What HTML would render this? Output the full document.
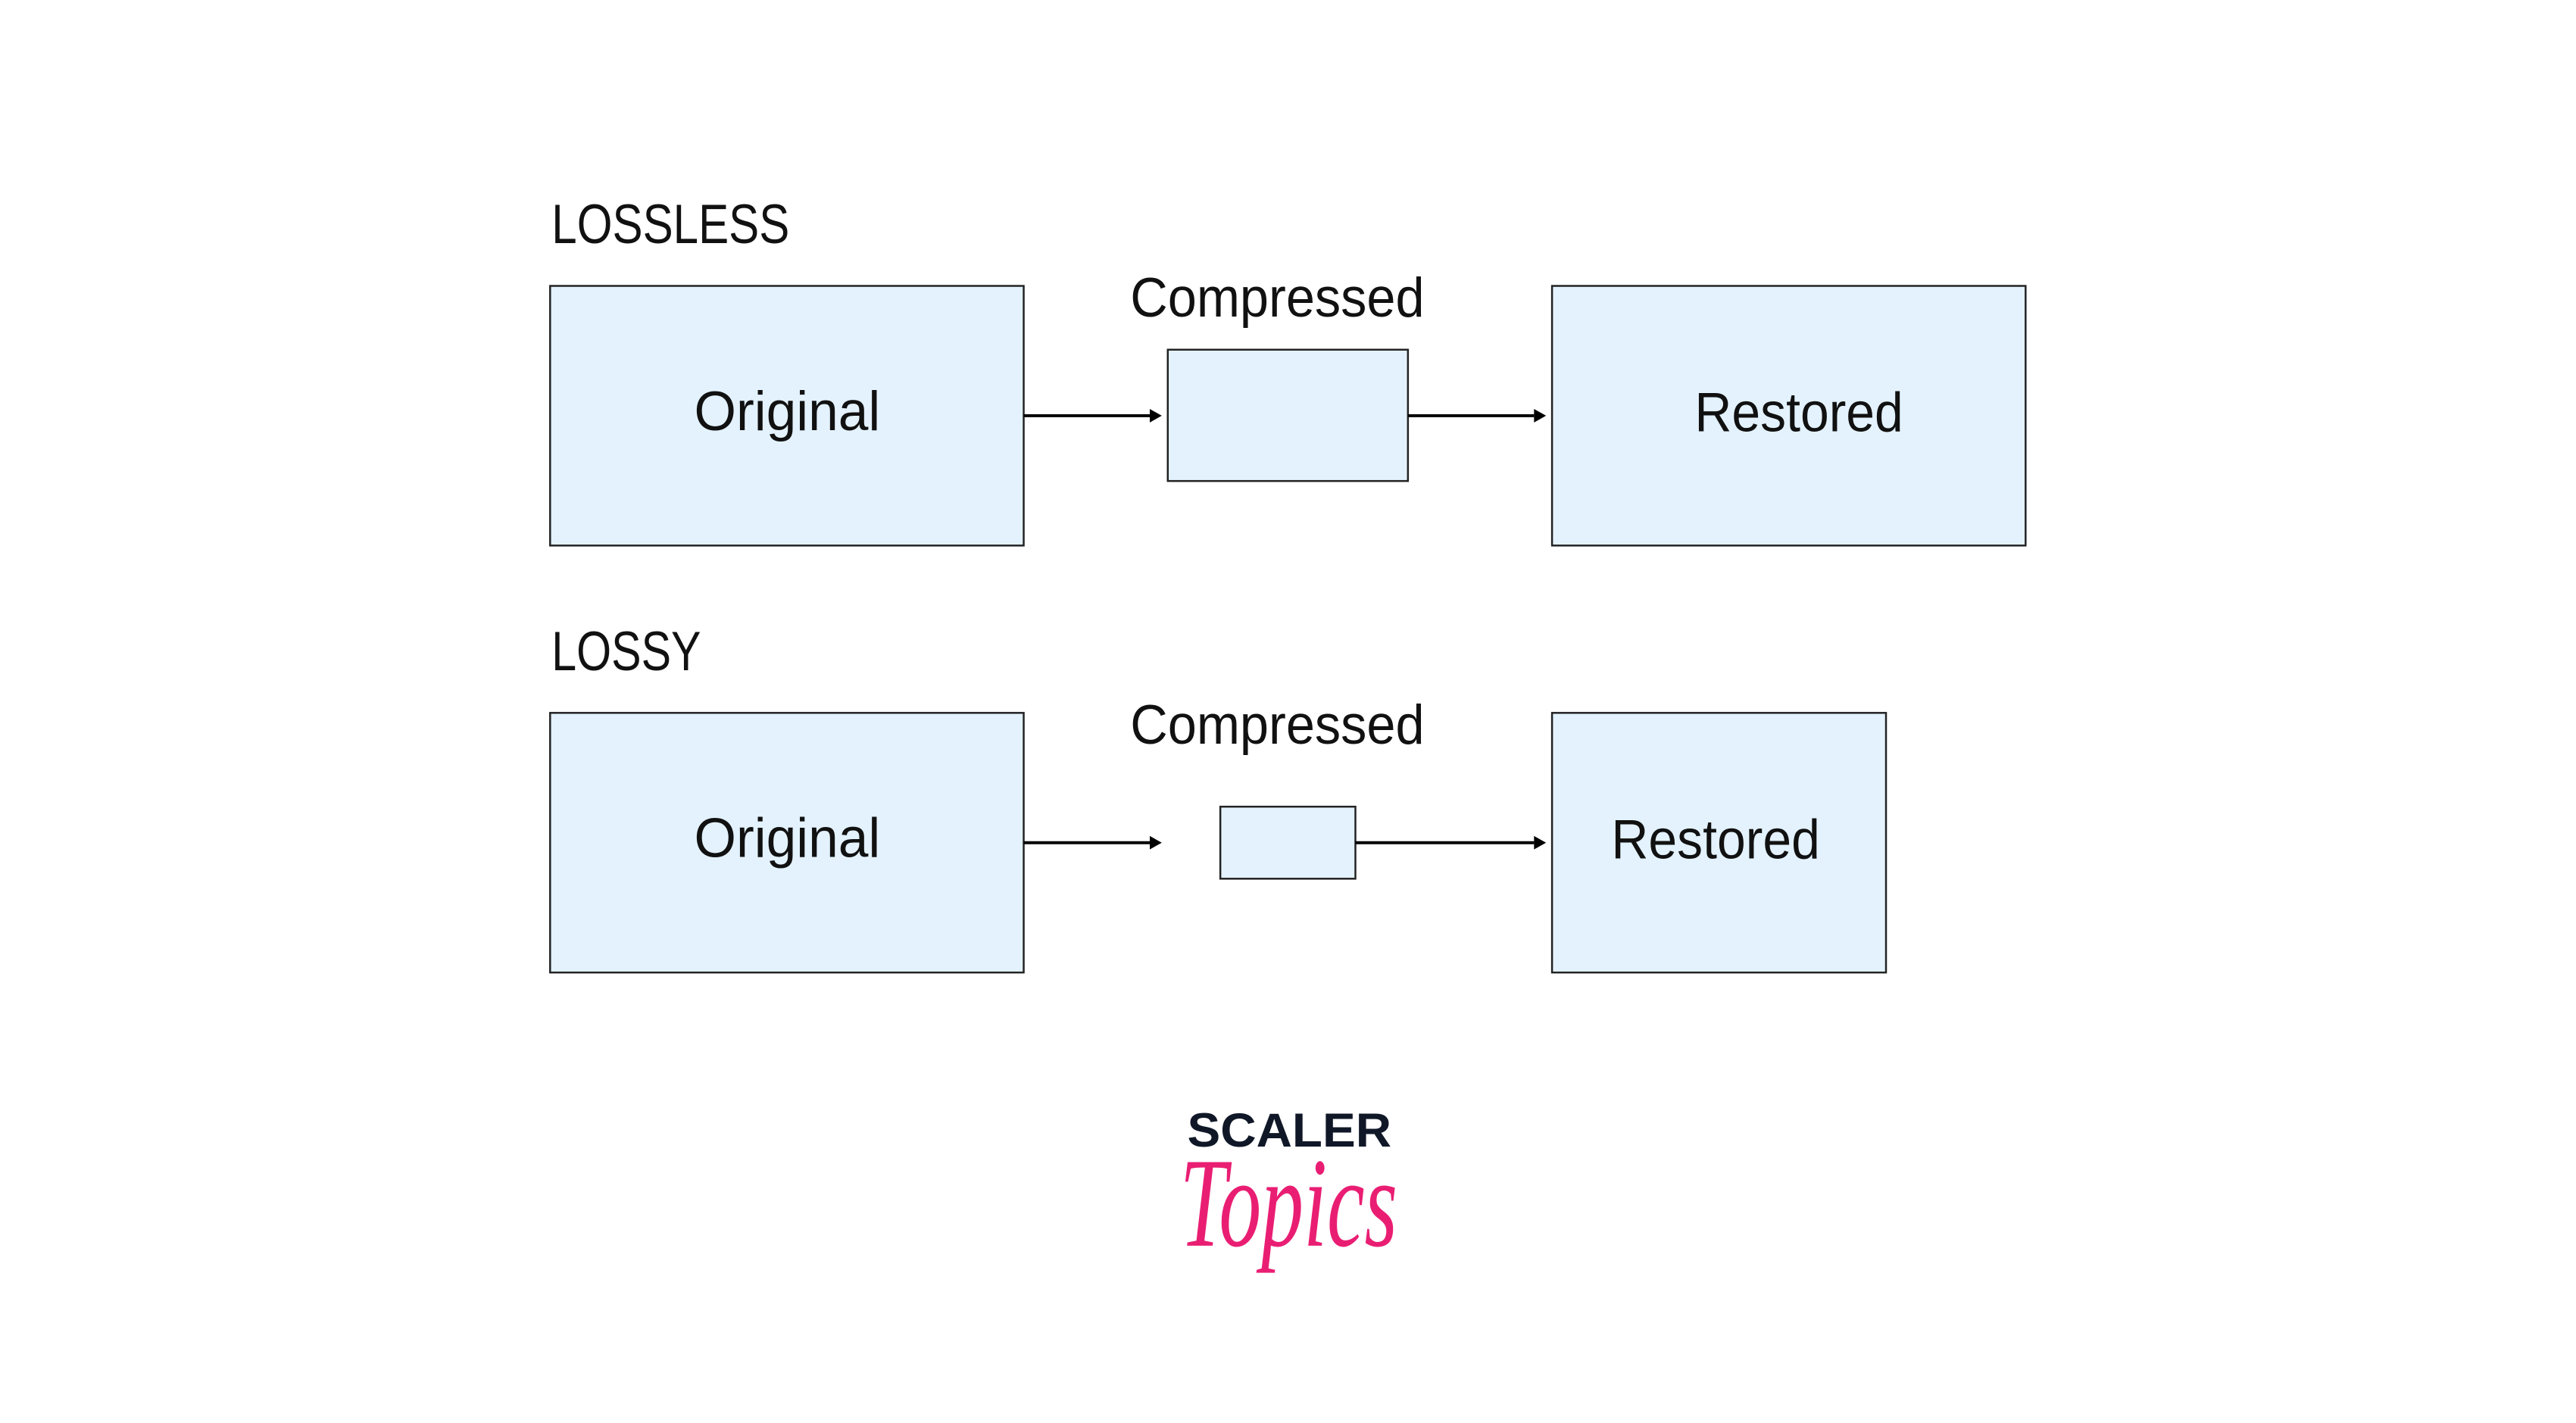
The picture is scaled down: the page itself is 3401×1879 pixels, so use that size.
<!DOCTYPE html>
<html><head><meta charset="utf-8"><style>
html,body{margin:0;padding:0;background:#fff;}
svg{display:block;}
text{font-family:"Liberation Sans",sans-serif;fill:#111;}
</style></head><body>
<svg width="3401" height="1879" viewBox="0 0 3401 1879" xmlns="http://www.w3.org/2000/svg">
<rect width="3401" height="1879" fill="#fff"/>
<g transform="scale(0.99086)">
<g fill="#e3f2fd" stroke="#222" stroke-width="2.5">
<rect x="733" y="381" width="631" height="346"/>
<rect x="1556" y="466" width="320" height="175"/>
<rect x="2068" y="381" width="631" height="346"/>
<rect x="733" y="950" width="631" height="346"/>
<rect x="1626" y="1075" width="180" height="96"/>
<rect x="2068" y="950" width="445" height="346"/>
</g>
<g stroke="#000" stroke-width="4">
<line x1="1364" y1="554" x2="1532" y2="554"/>
<line x1="1876" y1="554" x2="2044" y2="554"/>
<line x1="1364" y1="1123" x2="1532" y2="1123"/>
<line x1="1806" y1="1123" x2="2044" y2="1123"/>
</g>
<g fill="#000">
<path d="M1532,545 L1548,554 L1532,563 Z"/>
<path d="M2044,545 L2060,554 L2044,563 Z"/>
<path d="M1532,1114 L1548,1123 L1532,1132 Z"/>
<path d="M2044,1114 L2060,1123 L2044,1132 Z"/>
</g>
<g font-size="74">
<text x="735" y="324" textLength="317" lengthAdjust="spacingAndGlyphs">LOSSLESS</text>
<text x="1506" y="422" textLength="392" lengthAdjust="spacingAndGlyphs">Compressed</text>
<text x="925" y="573" textLength="248" lengthAdjust="spacingAndGlyphs">Original</text>
<text x="2258" y="575" textLength="278" lengthAdjust="spacingAndGlyphs">Restored</text>
<text x="735" y="893" textLength="199" lengthAdjust="spacingAndGlyphs">LOSSY</text>
<text x="1506" y="991" textLength="392" lengthAdjust="spacingAndGlyphs">Compressed</text>
<text x="925" y="1142" textLength="248" lengthAdjust="spacingAndGlyphs">Original</text>
<text x="2147" y="1144" textLength="278" lengthAdjust="spacingAndGlyphs">Restored</text>
</g>
<text x="1582" y="1528" font-size="64" font-weight="bold" style="fill:#101828" textLength="272" lengthAdjust="spacingAndGlyphs">SCALER</text>
<text x="1572" y="1660" font-style="italic" font-size="170" style="fill:#e91e73;font-family:'Liberation Serif',serif" textLength="290" lengthAdjust="spacingAndGlyphs">Topics</text>
</g>
</svg>
</body></html>
